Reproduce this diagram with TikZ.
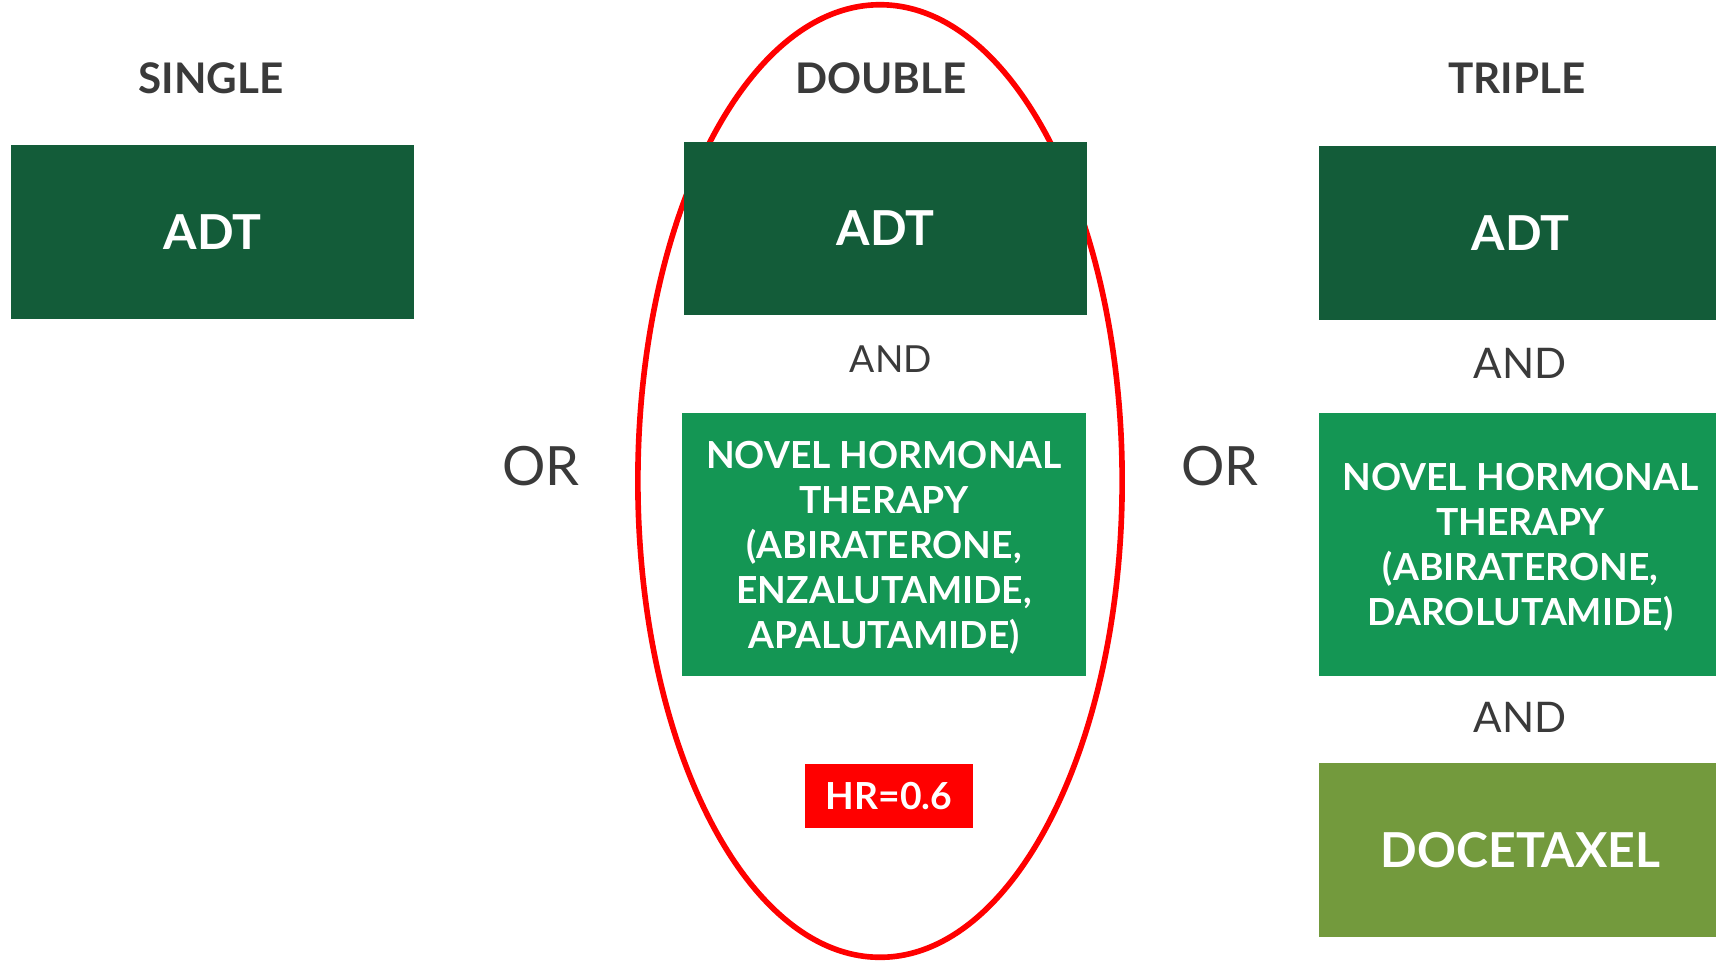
\documentclass[tikz,border=0pt]{standalone}
\usepackage{fontspec}
\setmainfont{Lato}
\definecolor{adtgreen}{RGB}{19,92,57}
\definecolor{nhtgreen}{RGB}{20,150,84}
\definecolor{docgreen}{RGB}{115,154,61}
\definecolor{labelgray}{RGB}{58,58,58}
\definecolor{hrred}{RGB}{255,0,0}
\begin{document}
\begin{tikzpicture}[x=0.01cm, y=-0.01cm,
        treatbox/.style={rectangle, inner sep=0pt, text=white, align=center, minimum width=4.03cm},
        bigbox/.style={treatbox, minimum height=1.74cm, font=\fontsize{13.7}{16}\selectfont\bfseries},
        drugbox/.style={treatbox, minimum height=2.63cm, text depth=0pt, fill=nhtgreen, font=\fontsize{10.6}{12.8}\selectfont\bfseries},
        coltitle/.style={text=labelgray, font=\fontsize{12}{14}\selectfont\bfseries},
        andtext/.style={text=labelgray, font=\fontsize{12}{14}\selectfont},
        ortext/.style={text=labelgray, font=\fontsize{15.4}{18}\selectfont}]
        \useasboundingbox (0,0) rectangle (1716,960);
        % highlight of the double regimen
        \draw[hrred, line width=1.6pt] (880,481) ellipse [x radius=2.42cm, y radius=4.76cm];
        % column titles
        \node[coltitle] (single) at (211,78) {SINGLE};
        \node[coltitle] (double) at (881,78) {DOUBLE};
        \node[coltitle] (triple) at (1517,78) {TRIPLE};
        % single
        \node[bigbox, fill=adtgreen] (sadt) at (212.5,232) {ADT};
        \node[ortext] (or1) at (541,466) {OR};
        % double
        \node[bigbox, fill=adtgreen, minimum height=1.73cm] (dadt) at (885.5,228.5) {ADT};
        \node[andtext, font=\fontsize{10.6}{12}\selectfont] (dand) at (891,359) {AND};
        \node[drugbox, minimum width=4.04cm] (dnht) at (884,544.5) {NOVEL HORMONAL\\THERAPY\\(ABIRATERONE,\\ENZALUTAMIDE,\\APALUTAMIDE)};
        \node[treatbox, fill=hrred, minimum width=1.68cm, minimum height=0.64cm, text depth=0pt,
            font=\fontsize{10.6}{12}\selectfont\bfseries] (hr) at (889,796) {HR=0.6};
        \node[ortext] (or2) at (1220,466) {OR};
        % triple
        \node[bigbox, fill=adtgreen] (tadt) at (1520.5,233) {ADT};
        \node[andtext] (tand1) at (1520,363) {AND};
        \node[drugbox] (tnht) at (1520.5,544.5) {NOVEL HORMONAL\\THERAPY\\(ABIRATERONE,\\DAROLUTAMIDE)};
        \node[andtext] (tand2) at (1520,717) {AND};
        \node[bigbox, fill=docgreen] (tdoc) at (1520.5,850) {DOCETAXEL};
    \end{tikzpicture}
\end{document}
